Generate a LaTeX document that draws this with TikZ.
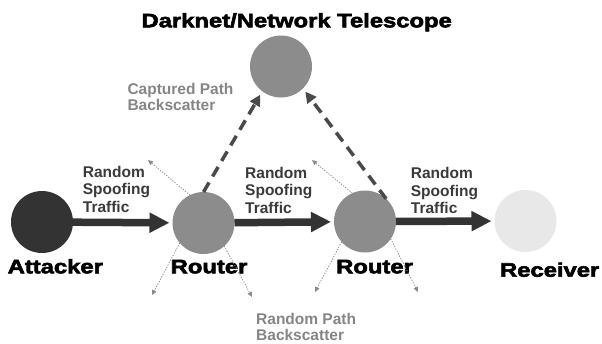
\documentclass[tikz,border=0pt]{standalone}
\usepackage{fontspec}
\usepackage{pdfrender}
\setmainfont{Liberation Sans}
\newfontfamily\heavyfont{Liberation Sans}[FakeStretch=1.22, BoldFeatures={FakeBold=3}]
\usetikzlibrary{arrows.meta}

\definecolor{attackfill}{HTML}{333333}
\definecolor{routerfill}{HTML}{8C8C8C}
\definecolor{receiverfill}{HTML}{E8E8E8}
\definecolor{flowdark}{HTML}{333333}
\definecolor{capturegray}{HTML}{4A4A4A}
\definecolor{scattergray}{HTML}{8A8A8A}
\definecolor{labeldark}{HTML}{3A3A3A}
\definecolor{labellight}{HTML}{858585}

% extra-heavy lettering: filled and stroked glyphs
\newcommand\heavytxt[1]{\textpdfrender{TextRenderingMode=FillStroke,LineWidth=1.3pt}{#1}}

\tikzset{
  hub/.style={circle, inner sep=0pt, outer sep=0pt, minimum size=62pt},
  heavy/.style={font=\heavyfont\bfseries\fontsize{19.5}{22}\selectfont, inner sep=0pt, text=black},
  lbl/.style={font=\bfseries\fontsize{15.5}{17.5}\selectfont, align=left, inner sep=0pt, anchor=north west},
  lblgray/.style={lbl, font=\bfseries\fontsize{15.5}{15.7}\selectfont, text=labellight},
  flow/.style={draw=flowdark, line width=7.5pt, -{Triangle[length=20pt,width=19pt]}, shorten >=3pt},
  capture/.style={draw=capturegray, line width=3.5pt, dash pattern=on 11pt off 7pt,
    -{Triangle[length=11pt,width=11pt]}, shorten >=4pt},
  scatter/.style={draw=scattergray, line width=0.8pt, dash pattern=on 1.2pt off 1.5pt,
    -{Triangle[length=5pt,width=4.5pt]}},
}

\begin{document}
\begin{tikzpicture}[x=1pt,y=-1pt]
\useasboundingbox (0,0) rectangle (602,343);

% hosts
\node[hub, fill=attackfill]   (att) at (42,222)    {};
\node[hub, fill=routerfill]   (r1)  at (203.5,223) {};
\node[hub, fill=routerfill]   (r2)  at (365,221.5) {};
\node[hub, fill=receiverfill] (rec) at (525.5,221) {};
\node[hub, fill=routerfill]   (tel) at (281,66.5)  {};

% host names
\node[heavy, anchor=base]      (title) at (296.7,27.3) {\heavytxt{Darknet/Network Telescope}};
\node[heavy, anchor=base west] (latt)  at (7.5,273.3)   {\heavytxt{Attacker}};
\node[heavy, anchor=base west] (lr1)   at (170.5,273.3) {\heavytxt{Router}};
\node[heavy, anchor=base west] (lr2)   at (336,273.3)   {\heavytxt{Router}};
\node[heavy, anchor=base east] (lrec)  at (599.5,276.7) {\heavytxt{Receiver}};

% spoofed traffic along the path
\draw[flow] (att) -- (r1);
\draw[flow] (r1) -- (r2);
\draw[flow] (r2) -- (rec);

\node[lbl, text=labeldark] (sp1) at (82.7,165.8) {Random\\Spoofing\\Traffic};
\node[lbl, text=labeldark] (sp2) at (245,166.8)  {Random\\Spoofing\\Traffic};
\node[lbl, text=labeldark] (sp3) at (410.7,167.2) {Random\\Spoofing\\Traffic};

% backscatter reaching the telescope
\draw[capture] (r1.90) -- (tel.233.6);
\draw[capture] (r2.47) -- (tel.315.6);
\node[lblgray] (cap) at (127.3,83) {Captured Path\\Backscatter};

% backscatter sent elsewhere
\coordinate (a1) at (148,160);
\coordinate (a2) at (152,295);
\coordinate (a3) at (252,297);
\coordinate (b1) at (312,160);
\coordinate (b2) at (315,292);
\coordinate (b3) at (418,292);
\draw[scatter] (r1.116) -- (a1);
\draw[scatter] (r1.220) -- (a2);
\draw[scatter] (r1.312) -- (a3);
\draw[scatter] (r2.114) -- (b1);
\draw[scatter] (r2.221) -- (b2);
\draw[scatter] (r2.326) -- (b3);
\node[lblgray] (rnd) at (256,313.5) {Random Path\\Backscatter};
\end{tikzpicture}
\end{document}
